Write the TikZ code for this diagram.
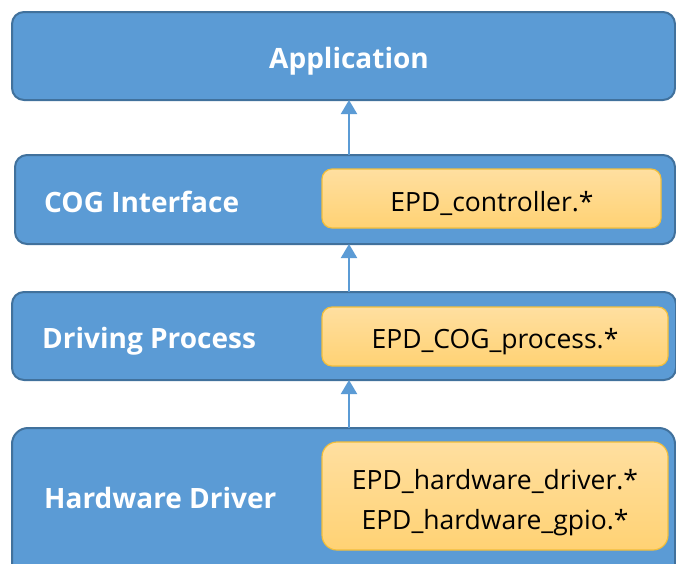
\documentclass[tikz,border=0pt]{standalone}
\usepackage{fontspec}
\setmainfont{Open Sans}
\usetikzlibrary{arrows.meta,shadings}
\definecolor{layerblue}{HTML}{5B9BD5}
\definecolor{layeredge}{HTML}{41719C}
\definecolor{fileedge}{HTML}{F2BE3A}
\definecolor{filetop}{HTML}{FFDFA0}
\definecolor{filebot}{HTML}{FFD274}
\tikzset{
  x=1pt, y=-1pt,
  layer/.style={draw=layeredge, fill=layerblue, line width=2pt, rounded corners=12pt},
  filebox/.style={draw=fileedge, line width=1.2pt, rounded corners=10pt,
    top color=filetop, bottom color=filebot},
  layertext/.style={text=white, font=\fontsize{28}{34}\selectfont\bfseries, inner sep=0pt},
  filetext/.style={text=black, font=\fontsize{26.5}{32}\selectfont, inner sep=0pt, anchor=base},
  uparrow/.style={draw=layerblue, line width=2pt, -{Triangle[length=14pt,width=16pt]}}
}
\begin{document}
\begin{tikzpicture}
\useasboundingbox (0,0) rectangle (676,563);
\clip (0,0) rectangle (676,563);
% layers
\path[layer] (12,12) rectangle (675,100);
\path[layer] (15,155) rectangle (675,244);
\path[layer] (12,292) rectangle (676,380);
\path[layer, rounded corners=16pt] (12,428) rectangle (675,590);
% file boxes
\path[filebox] (322,169) rectangle (661,228);
\path[filebox] (322,307) rectangle (668,366);
\path[filebox, rounded corners=15pt] (322,442) rectangle (668,550);
% layer names
\node[layertext, anchor=base] (app) at (349,68) {Application};
\node[layertext, anchor=base west] (cog) at (44,212) {COG Interface};
\node[layertext, anchor=base west] (drv) at (42,348) {Driving Process};
\node[layertext, anchor=base west] (hw) at (44,508) {Hardware Driver};
% file names
\node[filetext] (ctl) at (492,211) {EPD\_controller.*};
\node[filetext] (proc) at (495,348) {EPD\_COG\_process.*};
\node[filetext] (hwa) at (495,489) {EPD\_hardware\_driver.*};
\node[filetext] (hwb) at (495,529) {EPD\_hardware\_gpio.*};
% connector anchors on the layer edges
\coordinate (appB) at (349,100);
\coordinate (cogT) at (349,155);
\coordinate (cogB) at (349,244);
\coordinate (drvT) at (349,292);
\coordinate (drvB) at (349,380);
\coordinate (hwT) at (349,428);
\draw[uparrow] (cogT) -- (appB);
\draw[uparrow] (drvT) -- (cogB);
\draw[uparrow] (hwT) -- (drvB);
\end{tikzpicture}
\end{document}
